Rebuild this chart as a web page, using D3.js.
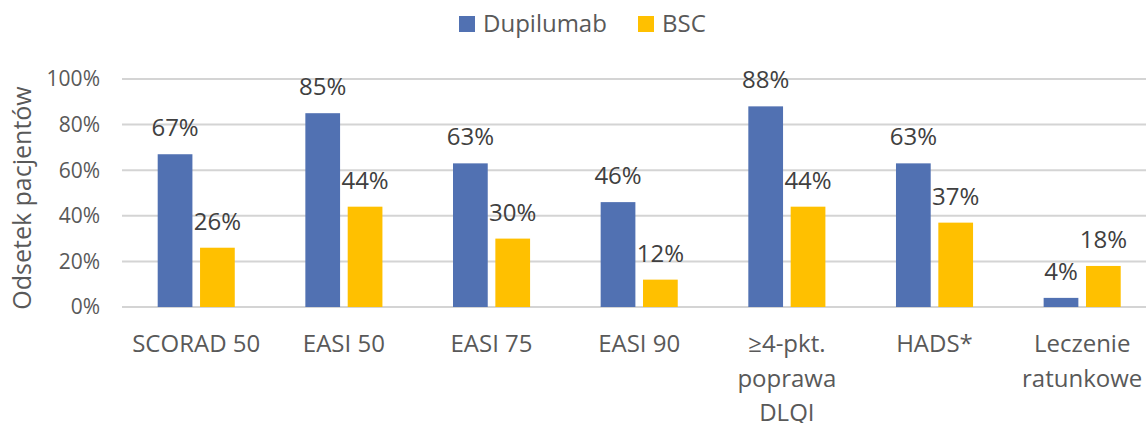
<!DOCTYPE html>
<html>
<head>
    <meta charset="utf-8">
    <script src="https://d3js.org/d3.v7.min.js"></script>
    <style>
        body { margin: 0; background: white; }
        text { font-family: "Open Sans", sans-serif; }
        .tick-label { font-size: 21px; fill: #595959; }
        .cat-label { font-size: 24px; fill: #595959; }
        .value-label { font-size: 24px; fill: #404040; }
        .legend-label { font-size: 24px; fill: #595959; }
        .axis-title { font-size: 25px; fill: #595959; }
    </style>
</head>
<body>
<script>
    // chart data
    const categories = ['SCORAD 50', 'EASI 50', 'EASI 75', 'EASI 90', '≥4-pkt. poprawa DLQI', 'HADS*', 'Leczenie ratunkowe'];
    const categoryLines = [['SCORAD 50'], ['EASI 50'], ['EASI 75'], ['EASI 90'], ['≥4-pkt.', 'poprawa', 'DLQI'], ['HADS*'], ['Leczenie', 'ratunkowe']];
    const seriesNames = ['Dupilumab', 'BSC'];
    const dupilumab = [67, 85, 63, 46, 88, 63, 4];
    const bsc = [26, 44, 30, 12, 44, 37, 18];
    const yTicks = [0, 20, 40, 60, 80, 100];
    const colors = ['#5171B2', '#FFC000'];

    const width = 1146, height = 423;

    const svg = d3.select('body').append('svg')
        .attr('width', width)
        .attr('height', height);

    const x0 = d3.scaleBand()
        .domain(categories)
        .range([122.4, 1156])
        .paddingInner(0.478)
        .paddingOuter(0.239);

    const x1 = d3.scaleBand()
        .domain(seriesNames)
        .range([0, x0.bandwidth()])
        .paddingInner(0.18);

    const y = d3.scaleLinear().domain([0, 100]).range([307, 79]);

    // gridlines
    svg.append('g').selectAll('line')
        .data(yTicks)
        .enter().append('line')
        .attr('x1', 122).attr('x2', 1156)
        .attr('y1', d => y(d)).attr('y2', d => y(d))
        .attr('stroke', '#d4d4d4')
        .attr('stroke-width', 2);

    svg.append('g').selectAll('text')
        .data(yTicks)
        .enter().append('text')
        .attr('class', 'tick-label')
        .attr('x', 100)
        .attr('y', d => y(d))
        .attr('dy', '0.35em')
        .attr('text-anchor', 'end')
        .text(d => d + '%');

    svg.append('text')
        .attr('class', 'axis-title')
        .attr('transform', 'translate(31,198) rotate(-90)')
        .attr('text-anchor', 'middle')
        .text('Odsetek pacjentów');

    const rows = categories.map((c, i) => ({ cat: c, values: [dupilumab[i], bsc[i]] }));

    const group = svg.append('g').selectAll('g')
        .data(rows)
        .enter().append('g')
        .attr('transform', d => `translate(${x0(d.cat)},0)`);

    group.selectAll('rect')
        .data(d => d.values.map((v, k) => ({ s: seriesNames[k], v: v, k: k })))
        .enter().append('rect')
        .attr('x', d => x1(d.s))
        .attr('width', x1.bandwidth())
        .attr('y', d => y(d.v))
        .attr('height', d => y(0) - y(d.v))
        .attr('fill', d => colors[d.k]);

    group.selectAll('text')
        .data(d => d.values.map((v, k) => ({ s: seriesNames[k], v: v, k: k })))
        .enter().append('text')
        .attr('class', 'value-label')
        .attr('x', d => x1(d.s) + x1.bandwidth() / 2)
        .attr('y', d => y(d.v) - 18)
        .attr('text-anchor', 'middle')
        .text(d => d.v + '%');

    // category labels
    const catText = svg.append('g').selectAll('text')
        .data(categories)
        .enter().append('text')
        .attr('class', 'cat-label')
        .attr('x', d => x0(d) + x0.bandwidth() / 2)
        .attr('y', 352)
        .attr('text-anchor', 'middle');

    catText.selectAll('tspan')
        .data((d, i) => categoryLines[i])
        .enter().append('tspan')
        .attr('x', function () { return this.parentNode.getAttribute('x'); })
        .attr('dy', (d, i) => i === 0 ? 0 : 34.5)
        .text(d => d);

    // legend
    const legendX = [459, 638];
    const legend = svg.append('g').selectAll('g')
        .data(seriesNames)
        .enter().append('g')
        .attr('transform', (d, i) => `translate(${legendX[i]},0)`);

    legend.append('rect')
        .attr('x', 0).attr('y', 16)
        .attr('width', 16).attr('height', 16)
        .attr('fill', (d, i) => colors[i]);

    legend.append('text')
        .attr('class', 'legend-label')
        .attr('x', 24)
        .attr('y', 32)
        .text(d => d);
</script>
</body>
</html>
